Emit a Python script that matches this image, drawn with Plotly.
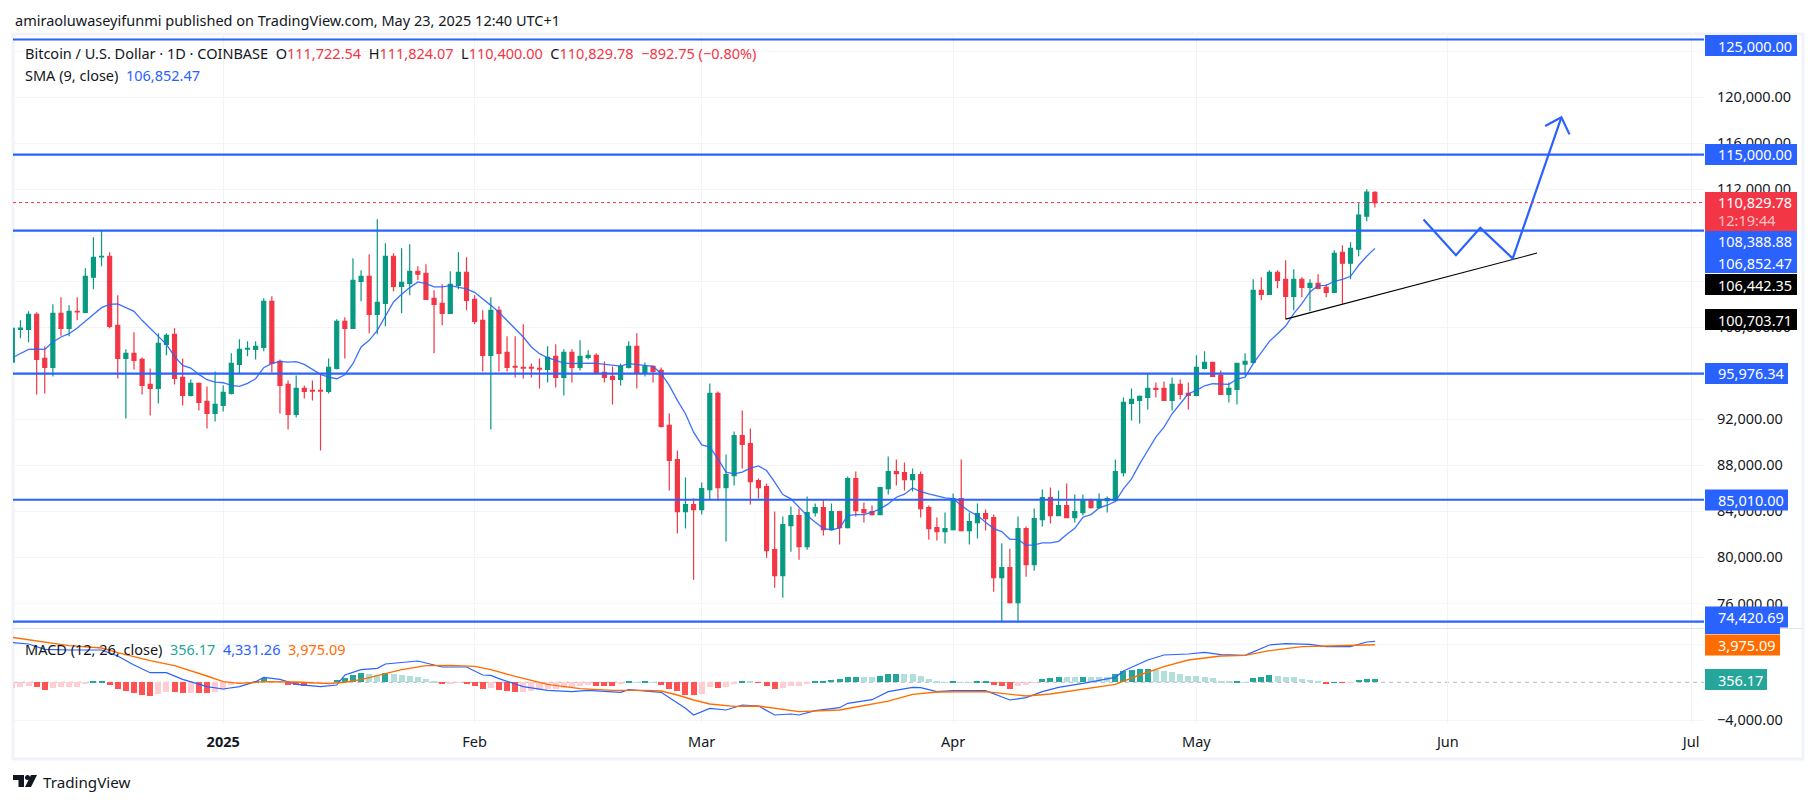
import pandas as pd
import plotly.graph_objects as go

BLUE = "#2962FF"
RED = "#F23645"
GREEN = "#089981"
INK = "#131722"
ORANGE = "#FF6D00"
FONT = "Noto Sans"

# daily candles, Dec 6 2024 - May 23 2025
OPEN = [
    96975, 99817, 99817, 101122, 97294, 96511, 101209, 99904, 101383, 101296, 104341, 106110, 106168,
    100165, 97294, 97729, 97207, 95032, 94684, 98512, 99382, 95641, 94075, 95119, 93553, 92509,
    93205, 94249, 96772, 98106, 98077, 98251, 102253, 97033, 95032, 92422, 94684, 94510, 94510, 94423, 96424, 100513,
    99904, 103993, 104428, 101122, 102079, 106168, 103558, 103819, 104863, 104689, 102514, 102079, 101209, 103645, 104776,
    102427, 100600, 97555, 101470, 97816, 96598, 96511, 96511, 96424, 96337, 97468, 95641, 97816, 96511,
    97381, 97555, 96076, 95728, 95467, 96511, 98338, 96076, 96598, 96250, 91465, 88507, 83983, 84592,
    84157, 85897, 94249, 86071, 87115, 90595, 89899, 86680, 86158, 80677, 78415, 82765, 83635, 80938, 83896, 84331,
    82417, 83983, 82591, 86854, 84157, 83983, 83722, 85984, 87463, 87376, 86767, 87202, 84331, 82591, 82243,
    82417, 85114, 82330, 83026, 83809, 83461, 78241, 79111, 76066, 82504, 79372, 83287, 85201, 83635, 84505,
    83461, 83896, 84940, 84331, 84940, 84940, 87376, 93379, 93640, 93901, 94684, 94684, 93640, 95032, 94249,
    94075, 96424, 96946, 95815, 94162, 94597, 96801, 96946, 103210, 102862, 104776, 104167, 102688, 104167, 103471,
    103819, 103471, 103036, 106516, 105559, 106777, 109648, 111722.54,
]
HIGH = [
    99950, 100600, 101383, 101296, 98338, 101992, 102601, 101905, 102601, 105124, 107821, 108430, 106516,
    102775, 98077, 99556, 97381, 96424, 99469, 99469, 99904, 97294, 95467, 95200, 94858, 96163,
    94945, 97729, 98947, 98773, 98773, 102514, 102688, 97207, 95380, 95815, 94945, 95380, 95989, 97294, 100687, 100861,
    105994, 104950, 106342, 109387, 107299, 106429, 106864, 107212, 105298, 105472, 103210, 103732, 104863, 106516, 106081,
    102775, 101470, 102601, 101818, 99208, 99208, 100252, 96859, 97294, 98338, 98512, 98077, 98077, 98860,
    97990, 97729, 97033, 96598, 96859, 98773, 99469, 96946, 96685, 96511, 92509, 89290, 86941, 85114,
    86506, 95119, 94423, 88942, 90943, 92770, 91204, 86854, 86419, 83983, 83548, 84418, 84244, 85288, 84679, 85027,
    84679, 84050, 87028, 87463, 84766, 84505, 86120, 88768, 88507, 88246, 87724, 87463, 84505, 83461, 83896,
    85549, 88507, 83896, 84679, 84157, 83722, 81199, 80764, 83548, 82678, 84244, 85897, 86071, 85810, 86419,
    85462, 85462, 85114, 85549, 85288, 88507, 93901, 94684, 94075, 95989, 95206, 95293, 95641, 95467, 95206,
    97555, 97903, 96990, 96250, 95206, 96900, 97729, 104167, 104341, 104950, 104950, 105820, 105037, 104341, 104167,
    104602, 103732, 106690, 107125, 107386, 110779, 111997, 111824.07,
]
LOW = [
    96900, 99034, 98686, 94162, 94249, 95728, 99266, 99208, 100600, 101209, 103297, 105298, 99904,
    95554, 92074, 96337, 94162, 92335, 93379, 97555, 95032, 93205, 93988, 92770, 91204, 91813,
    92683, 94162, 95989, 97468, 97207, 97903, 96076, 92509, 91117, 92161, 93814, 93640, 89290, 94249, 96337, 97294,
    99850, 102253, 99469, 99382, 100078, 103123, 101209, 102775, 104080, 102400, 97729, 100165, 101180, 103297, 101470,
    100252, 96163, 91117, 96163, 96163, 95641, 95554, 95641, 94684, 95206, 94771, 94075, 95206, 96250,
    97207, 95950, 95206, 93292, 94945, 96424, 94684, 95728, 95206, 91291, 85810, 82069, 82504, 78067,
    83722, 85027, 84940, 81373, 86245, 87724, 84592, 85114, 79981, 77371, 76501, 80503, 79807, 80677, 83548, 81895,
    82330, 81112, 82504, 83548, 83026, 83635, 83680, 85462, 86245, 85810, 85723, 83461, 81547, 81460, 81199,
    82330, 82243, 81112, 81634, 82330, 77023, 74413, 76000, 74500, 78328, 78850, 82678, 82939, 83600, 83420,
    83026, 83635, 84244, 84244, 83896, 84900, 87028, 91900, 91639, 92857, 93901, 93600, 92770, 93727, 92857,
    94000, 96337, 95680, 94120, 93466, 93292, 95815, 96859, 102340, 102820, 103384, 100703.71, 101470, 102601, 101383,
    103300, 102601, 103000, 101992, 104167, 106168, 109213, 110400,
]
CLOSE = [
    99904, 99933, 101122, 97207, 96511, 101209, 99904, 101383, 101325, 104428, 106081, 106168, 100078,
    97294, 97729, 97120, 94945, 94684, 98599, 99295, 95554, 94075, 95119, 93466, 92509, 93292,
    94336, 96859, 98077, 98164, 98338, 102253, 96859, 94945, 92422, 94684, 94423, 94450, 94450, 96511, 100513, 99904,
    104080, 104428, 101122, 102166, 106168, 103558, 103906, 104863, 104602, 102427, 101992, 101209, 103732, 104776, 102340,
    100513, 97555, 101470, 97729, 96511, 96540, 96453, 96453, 96366, 97381, 95641, 97816, 96511, 97468,
    97555, 95989, 95641, 95467, 96598, 98338, 96076, 96598, 96163, 91378, 88420, 83983, 84592, 84157,
    85984, 94249, 86071, 87202, 90595, 89812, 86593, 86071, 80590, 78415, 82852, 83635, 80938, 83896, 84331, 82417,
    83983, 82591, 86854, 84070, 83896, 83722, 86071, 87463, 87289, 86767, 87202, 84244, 82504, 82243, 82504,
    85114, 82330, 83113, 83809, 83374, 78241, 79111, 76066, 82504, 79372, 83374, 85201, 83635, 84505, 83461,
    83983, 85027, 84331, 85027, 85114, 87463, 93466, 93727, 93988, 94684, 94597, 93640, 95032, 94162, 94075,
    96511, 96946, 95728, 94162, 94684, 96859, 97033, 103210, 102862, 104776, 104080, 102688, 104167, 103471, 103819,
    103384, 103036, 106429, 105559, 106864, 109735, 111736, 110829.78,
]
SMA = [
    97352, 97700, 98077, 98106, 98077, 98715, 99150, 99440, 99933, 100513, 101122, 101702, 101992,
    102021, 101702, 101383, 100600, 99875, 99237, 98512, 97468, 96685, 96453, 95902, 95438, 95235,
    95177, 94945, 94858, 95119, 95525, 96482, 96859, 97033, 96975, 97004, 96772, 96337, 95902, 95670, 95525, 95873,
    96830, 98280, 98860, 99730, 100948, 102195, 102862, 103442, 103935, 103790, 103500, 103500, 103616, 103500, 103326,
    103036, 102427, 101900, 101300, 100600, 99875, 99150, 98280, 97700, 97352, 97120, 96888, 96830, 96888,
    96888, 96859, 96801, 96685, 96627, 96830, 96743, 96656, 96598, 95960, 94945, 93640, 92480, 90885,
    89783, 89580, 88565, 87405, 87260, 87405, 87753, 87956, 87550, 86535, 85462, 85085, 84360, 83635, 83055, 82533,
    82388, 82562, 83635, 83722, 83722, 83925, 84215, 84650, 85230, 85491, 86042, 85723, 85520, 85346, 85172,
    85114, 84505, 84012, 83635, 83055, 82504, 82243, 81576, 81576, 81054, 81083, 81257, 81257, 81402, 81982,
    82533, 83490, 83722, 84302, 84534, 84851, 85955, 86825, 88130, 89290, 90450, 91320, 92480, 93350, 94220,
    94510, 94916, 95090, 95061, 95032, 95496, 95670, 96830, 97845, 98773, 99440, 100107, 101180, 102050, 103065,
    103616, 103645, 103993, 104167, 104428, 105385, 106168, 106852.47,
]
HIST = [
    -600, -460, -420, -500, -800, -600, -530, -500, -490, -220, 70, 140, -280,
    -700, -950, -1130, -1340, -1450, -1240, -1030, -1060, -1130, -1100, -1150, -1180, -1030,
    -850, -280, -110, -20, 140, 490, 180, 30, -280, -290, -350, -180, -100, -10, 250, 460,
    780, 990, 880, 780, 1030, 880, 780, 670, 570, 350, 140, -180, -140, -70, -180,
    -350, -710, -600, -810, -920, -1030, -1000, -950, -810, -740, -710, -570, -530, -390,
    -320, -350, -360, -370, -210, 140, 30, 140, 20, -280, -710, -920, -1310, -1350,
    -1220, -500, -600, -490, -140, 140, 130, -40, -350, -710, -600, -350, -340, -140, 140, 150,
    250, 350, 560, 570, 560, 550, 670, 880, 890, 880, 870, 670, 350, 140, 30,
    140, 30, 10, 140, 150, -280, -350, -710, -350, -280, -30, 350, 460, 570, 560,
    550, 570, 560, 550, 540, 880, 1200, 1310, 1410, 1420, 1310, 1200, 1060, 850, 670,
    660, 570, 420, 180, 40, 60, 30, 420, 570, 780, 700, 570, 560, 350, 250,
    140, -140, 30, -30, -20, 250, 350, 356.17,
]

MACD_DATES = [
    "2024-12-06", "2024-12-08", "2024-12-10", "2024-12-13", "2024-12-17", "2024-12-19", "2024-12-21", "2024-12-23",
    "2024-12-25", "2024-12-27", "2024-12-30", "2025-01-01", "2025-01-03", "2025-01-05", "2025-01-06", "2025-01-08",
    "2025-01-10", "2025-01-13", "2025-01-15", "2025-01-16", "2025-01-18", "2025-01-20", "2025-01-21", "2025-01-23",
    "2025-01-25", "2025-01-27", "2025-01-28", "2025-01-31", "2025-02-01", "2025-02-02", "2025-02-03", "2025-02-04",
    "2025-02-07", "2025-02-10", "2025-02-13", "2025-02-15", "2025-02-19", "2025-02-20", "2025-02-24", "2025-02-25",
    "2025-02-26", "2025-02-27", "2025-02-28", "2025-03-02", "2025-03-04", "2025-03-06", "2025-03-08", "2025-03-10",
    "2025-03-12", "2025-03-13", "2025-03-15", "2025-03-18", "2025-03-19", "2025-03-22", "2025-03-24", "2025-03-26",
    "2025-03-27", "2025-03-28", "2025-03-30", "2025-04-01", "2025-04-05", "2025-04-08", "2025-04-10", "2025-04-12",
    "2025-04-14", "2025-04-17", "2025-04-20", "2025-04-21", "2025-04-22", "2025-04-25", "2025-04-27", "2025-04-30",
    "2025-05-02", "2025-05-04", "2025-05-07", "2025-05-10", "2025-05-12", "2025-05-15", "2025-05-17", "2025-05-20",
    "2025-05-22", "2025-05-23",
]
MACD_LINE = [
    4203, 4061, 3496, 3425, 3425, 2789, 1834, 1021, 1021, 314, -464, -711, -464, 67, 526, 314,
    -216, -464, -287, 774, 1339, 1481, 1940, 2082, 2258, 1834, 1622, 1622, 1233, 774, 738, 385,
    -464, -853, -994, -853, -1064, -782, -1064, -1630, -2231, -2762, -3468, -2761, -2938, -2407, -2513, -3468,
    -3362, -3468, -3008, -2690, -2230, -1842, -993, -640, -534, -569, -993, -887, -887, -1877, -1630, -993,
    -534, -110, 315, 527, 1198, 2365, 2895, 3001, 3178, 2931, 2860, 3956, 4097, 4026, 3779, 3779, 4274, 4331.26,
]
SIGNAL_DATES = [
    "2024-12-06", "2024-12-08", "2024-12-10", "2024-12-13", "2024-12-17", "2024-12-19", "2024-12-23", "2024-12-26",
    "2024-12-30", "2025-01-01", "2025-01-03", "2025-01-06", "2025-01-10", "2025-01-14", "2025-01-16", "2025-01-18",
    "2025-01-20", "2025-01-23", "2025-01-26", "2025-01-29", "2025-02-01", "2025-02-03", "2025-02-06", "2025-02-10",
    "2025-02-14", "2025-02-18", "2025-02-22", "2025-02-24", "2025-02-26", "2025-02-28", "2025-03-02", "2025-03-05",
    "2025-03-08", "2025-03-13", "2025-03-18", "2025-03-24", "2025-03-27", "2025-03-30", "2025-04-05", "2025-04-10",
    "2025-04-13", "2025-04-21", "2025-04-24", "2025-04-27", "2025-04-30", "2025-05-04", "2025-05-07", "2025-05-10",
    "2025-05-14", "2025-05-18", "2025-05-23",
]
SIGNAL_LINE = [
    4768, 4521, 4203, 3885, 3637, 3142, 2294, 1764, 668, 67, -110, 67, 32, -145, 3, 279,
    703, 1339, 1764, 1799, 1693, 1339, 632, -216, -676, -853, -853, -923, -1347, -1878, -2301, -2549,
    -2513, -3114, -2938, -2000, -1276, -1029, -993, -1453, -1241, -216, 774, 1658, 2365, 2789, 2860, 3355,
    3779, 3850, 3975.09,
]

LEVELS = [125000, 115000, 108388.88, 95976.34, 85010, 74420.69]
LAST_PRICE = 110829.78
TREND_DATES = ["2025-05-12", "2025-06-12"]
TREND_VALUES = [100703.71, 106442.35]
PATH_DATES = ["2025-05-29", "2025-06-02", "2025-06-05", "2025-06-09", "2025-06-15"]
PATH_VALUES = [109365, 106261, 108635, 105974, 118235]
HEAD_DATES = ["2025-06-13", "2025-06-15", "2025-06-16"]
HEAD_VALUES = [117478, 118235, 116757]

PRICE_TICKS = list(range(76000, 124001, 4000))
HIDDEN_TICKS = [96000, 104000, 108000, 124000]  # fully behind the price tags
MACD_TICKS = [-4000, 4000]
MACD_TICK_LABELS = ["−4,000.00", ""]
MONTH_TICKS = ["2025-01-01", "2025-02-01", "2025-03-01", "2025-04-01", "2025-05-01", "2025-06-01", "2025-07-01"]
MONTH_LABELS = ["<b>2025</b>", "Feb", "Mar", "Apr", "May", "Jun", "Jul"]

# (text, box colour, centre y in px, box width in px)
PRICE_TAGS = [
    ("125,000.00", BLUE, 45.5, 92),
    ("115,000.00", BLUE, 154.5, 92),
    ("108,388.88", BLUE, 241.5, 92),
    ("106,852.47", BLUE, 262.5, 92),
    ("106,442.35", "#000000", 284.5, 92),
    ("100,703.71", "#000000", 319.5, 92),
    ("95,976.34", BLUE, 373.5, 83),
    ("85,010.00", BLUE, 500, 83),
    ("", BLUE, 623.5, 75),  # macd line tag, covered by the 74,420.69 tag
    ("74,420.69", BLUE, 617, 83),
    ("3,975.09", ORANGE, 645, 75),
    ("356.17", "#26A69A", 679.5, 62),
]

dates = pd.date_range("2024-12-06", "2025-05-23", freq="D")

# plot area in page pixels
LEFT, RIGHT, TOP, BOTTOM = 13, 1704, 34, 723


def px_x(x):
    return (x - LEFT) / (RIGHT - LEFT)


def px_y(y):
    return (BOTTOM - y) / (BOTTOM - TOP)


# tradingview histogram colours: rising/falling on each side of zero
hist_colors = []
for i, val in enumerate(HIST):
    prev = HIST[i - 1] if i else val - 1
    if val >= 0:
        hist_colors.append("#26A69A" if val > prev else "#B2DFDB")
    else:
        hist_colors.append("#FFCDD2" if val > prev else "#FF5252")

fig = go.Figure()

fig.add_trace(go.Candlestick(
    x=dates, open=OPEN, high=HIGH, low=LOW, close=CLOSE, yaxis="y",
    increasing=dict(line=dict(color=GREEN, width=1.2), fillcolor=GREEN),
    decreasing=dict(line=dict(color=RED, width=1.2), fillcolor=RED),
    whiskerwidth=0, hoverinfo="skip",
))
fig.add_trace(go.Scatter(x=dates, y=SMA, mode="lines", yaxis="y", line=dict(color=BLUE, width=1.3), opacity=0.9, hoverinfo="skip"))
fig.add_trace(go.Scatter(x=TREND_DATES, y=TREND_VALUES, mode="lines", yaxis="y", line=dict(color="#000000", width=1.1), hoverinfo="skip"))
fig.add_trace(go.Scatter(x=PATH_DATES, y=PATH_VALUES, mode="lines", yaxis="y", line=dict(color=BLUE, width=2.2), hoverinfo="skip"))
fig.add_trace(go.Scatter(x=HEAD_DATES, y=HEAD_VALUES, mode="lines", yaxis="y", line=dict(color=BLUE, width=2.2), hoverinfo="skip"))

fig.add_trace(go.Bar(x=dates, y=HIST, yaxis="y2", marker=dict(color=hist_colors, line_width=0), width=64000000, hoverinfo="skip"))
fig.add_trace(go.Scatter(x=MACD_DATES, y=MACD_LINE, mode="lines", yaxis="y2", line=dict(color=BLUE, width=1.2), hoverinfo="skip"))
fig.add_trace(go.Scatter(x=SIGNAL_DATES, y=SIGNAL_LINE, mode="lines", yaxis="y2", line=dict(color=ORANGE, width=1.4), hoverinfo="skip"))

shapes = []
for level in LEVELS:
    shapes.append(dict(type="line", xref="paper", yref="y", x0=0, x1=1, y0=level, y1=level,
                       line=dict(color=BLUE, width=2.2), layer="above"))
shapes.append(dict(type="line", xref="paper", yref="y", x0=0, x1=1, y0=LAST_PRICE, y1=LAST_PRICE,
                   line=dict(color=RED, width=1, dash="dot"), layer="above"))
shapes.append(dict(type="line", xref="paper", yref="y2", x0=0, x1=1, y0=0, y1=0,
                   line=dict(color="#B2B5BE", width=1, dash="4px,4px"), layer="below"))
# chart frame and pane separator
shapes.append(dict(type="rect", xref="paper", yref="paper", x0=px_x(13), x1=px_x(1803), y0=px_y(34), y1=px_y(759),
                   line=dict(color="#F0F3FA", width=3), layer="below"))
shapes.append(dict(type="line", xref="paper", yref="paper", x0=px_x(13), x1=px_x(1802), y0=px_y(628.5), y1=px_y(628.5),
                   line=dict(color="#E0E3EB", width=1), layer="above"))

annotations = []
for text, color, cy, w in PRICE_TAGS:
    shapes.append(dict(type="rect", xref="paper", yref="paper", x0=px_x(1705), x1=px_x(1705 + w),
                       y0=px_y(cy - 10.5), y1=px_y(cy + 10.5), fillcolor=color, line_width=0, layer="above"))
    if text:
        annotations.append(dict(xref="paper", yref="paper", x=px_x(1716), y=px_y(cy), text=text, showarrow=False,
                                xanchor="left", yanchor="middle", font=dict(family=FONT, size=14.5, color="white")))

# last price tag with the countdown
shapes.append(dict(type="rect", xref="paper", yref="paper", x0=px_x(1705), x1=px_x(1797),
                   y0=px_y(192), y1=px_y(231), fillcolor=RED, line_width=0, layer="above"))
annotations.append(dict(xref="paper", yref="paper", x=px_x(1716), y=px_y(202), text="110,829.78", showarrow=False,
                        xanchor="left", yanchor="middle", font=dict(family=FONT, size=14.5, color="white")))
annotations.append(dict(xref="paper", yref="paper", x=px_x(1716), y=px_y(220), text="12:19:44", showarrow=False,
                        xanchor="left", yanchor="middle", font=dict(family=FONT, size=14.5, color="rgba(255,255,255,0.7)")))


def legend_line(x, y, text, size=14.5):
    annotations.append(dict(xref="paper", yref="paper", x=px_x(x), y=px_y(y), text=text, showarrow=False,
                            xanchor="left", yanchor="middle", align="left",
                            font=dict(family=FONT, size=size, color=INK)))


def colored(text, color):
    return f'<span style="color:{color}">{text}</span>'


legend_line(13, 20, "amiraoluwaseyifunmi published on TradingView.com, May 23, 2025 12:40 UTC+1", 14.5)
legend_line(23, 53, "Bitcoin / U.S. Dollar · 1D · COINBASE  O" + colored("111,722.54", RED)
            + "  H" + colored("111,824.07", RED) + "  L" + colored("110,400.00", RED)
            + "  C" + colored("110,829.78", RED) + "  " + colored("−892.75 (−0.80%)", RED))
legend_line(23, 75, "SMA (9, close)  " + colored("106,852.47", BLUE))
legend_line(23, 649, "MACD (12, 26, close)  " + colored("356.17", "#26A69A") + "  " + colored("4,331.26", BLUE)
            + "  " + colored("3,975.09", ORANGE))
legend_line(41, 782, "TradingView", 15.2)

# TradingView logo
shapes.append(dict(type="path", xref="paper", yref="paper", fillcolor="#131722", line_width=0, layer="above",
                   path=f"M {px_x(13)} {px_y(775)} L {px_x(24)} {px_y(775)} L {px_x(24)} {px_y(787)} L {px_x(18.5)} {px_y(787)} "
                        f"L {px_x(18.5)} {px_y(780)} L {px_x(13)} {px_y(780)} Z"))
shapes.append(dict(type="circle", xref="paper", yref="paper", fillcolor="#131722", line_width=0, layer="above",
                   x0=px_x(25), x1=px_x(30), y0=px_y(775), y1=px_y(780)))
shapes.append(dict(type="path", xref="paper", yref="paper", fillcolor="#131722", line_width=0, layer="above",
                   path=f"M {px_x(31)} {px_y(775)} L {px_x(37)} {px_y(775)} L {px_x(31)} {px_y(787)} L {px_x(25)} {px_y(787)} Z"))

price_labels = ["" if t in HIDDEN_TICKS else f"{t:,.2f}" for t in PRICE_TICKS]

fig.update_layout(
    width=1814, height=803, showlegend=False,
    margin=dict(l=LEFT, r=1814 - RIGHT, t=TOP, b=803 - BOTTOM, autoexpand=False),
    paper_bgcolor="white", plot_bgcolor="white",
    font=dict(family=FONT, size=14.5, color=INK),
    boxgap=0.3, bargap=0, hovermode=False,
    shapes=shapes, annotations=annotations,
    xaxis=dict(type="date", anchor="y2", range=["2024-12-06 02:00", "2025-07-02 14:00"],
               tickmode="array", tickvals=MONTH_TICKS, ticktext=MONTH_LABELS, showgrid=True, gridcolor="#F0F3FA",
               gridwidth=1, ticks="", zeroline=False, showline=False, rangeslider=dict(visible=False), ticklabelstandoff=8),
    yaxis=dict(domain=[(BOTTOM - 628.5) / (BOTTOM - TOP), 1], range=[73824, 125478], side="right",
               tickmode="array", tickvals=PRICE_TICKS, ticktext=price_labels, showgrid=True, gridcolor="#F3F4F6",
               zeroline=False, showline=False, ticks="", ticklabelstandoff=12),
    yaxis2=dict(domain=[0, (BOTTOM - 629) / (BOTTOM - TOP)], range=[-4316, 5652], side="right",
                tickmode="array", tickvals=MACD_TICKS, ticktext=MACD_TICK_LABELS, showgrid=True, gridcolor="#F3F4F6",
                zeroline=False, showline=False, ticks="", ticklabelstandoff=12),
)

fig.write_html("out.html", config=dict(displayModeBar=False),
               post_script="document.body.style.margin='0';document.body.style.overflow='hidden';")
